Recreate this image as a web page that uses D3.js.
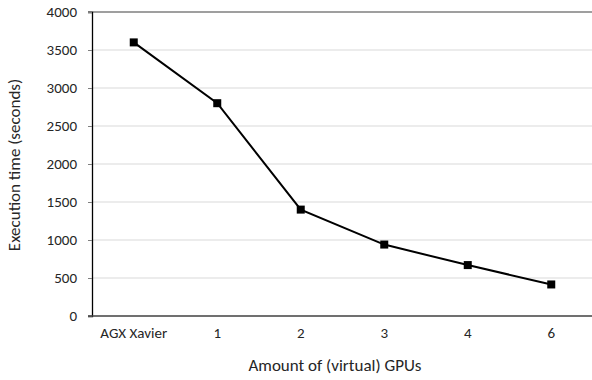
<!DOCTYPE html>
<html>
<head>
<meta charset="utf-8">
<script src="https://cdn.jsdelivr.net/npm/d3@7"></script>
<style>
  body { margin: 0; background: #fff; }
  text { font-family: Carlito, "Open Sans", "Liberation Sans", sans-serif; fill: #262626; }
</style>
</head>
<body>
<div id="chart"></div>
<script>
const categories = ['AGX Xavier', '1', '2', '3', '4', '6'];
const execTimes = [3600, 2800, 1400, 940, 670, 415];
const yTicks = [0, 500, 1000, 1500, 2000, 2500, 3000, 3500, 4000];

const width = 592, height = 380;
const margin = { top: 12, right: -1, bottom: 64, left: 92 };

const svg = d3.select('#chart').append('svg')
  .attr('width', width)
  .attr('height', height);

const x = d3.scaleBand()
  .domain(categories)
  .range([margin.left, width - margin.right]);

const y = d3.scaleLinear()
  .domain([0, 4000])
  .range([height - margin.bottom, margin.top]);

// gridlines
svg.append('g')
  .selectAll('line')
  .data(yTicks.filter(d => d > 0 && d < 4000))
  .join('line')
  .attr('x1', margin.left)
  .attr('x2', width)
  .attr('y1', d => y(d))
  .attr('y2', d => y(d))
  .attr('stroke', '#d9d9d9')
  .attr('stroke-width', 1);

// top border line
svg.append('line')
  .attr('x1', margin.left - 4).attr('x2', width)
  .attr('y1', y(4000)).attr('y2', y(4000))
  .attr('stroke', '#7f7f7f').attr('stroke-width', 1.3);

// y axis
const yAxis = svg.append('g')
  .attr('transform', `translate(${margin.left},0)`)
  .call(d3.axisLeft(y).tickValues(yTicks).tickFormat(d3.format('d')).tickSize(4).tickPadding(11));
yAxis.select('.domain').attr('stroke', '#000').attr('stroke-width', 1.3);
yAxis.selectAll('.tick line').attr('stroke', '#7f7f7f');
yAxis.selectAll('.tick text').style('font-size', '15px');

// x axis
const xAxis = svg.append('g')
  .attr('transform', `translate(0,${y(0)})`)
  .call(d3.axisBottom(x).tickSize(0).tickPadding(11));
xAxis.select('.domain').remove();
xAxis.selectAll('.tick text').style('font-size', '15px');
svg.append('line')
  .attr('x1', margin.left - 4).attr('x2', width)
  .attr('y1', y(0)).attr('y2', y(0))
  .attr('stroke', '#404040').attr('stroke-width', 1.3);

// line
const line = d3.line()
  .x((d, i) => x(categories[i]) + x.bandwidth() / 2)
  .y(d => y(d));

svg.append('path')
  .datum(execTimes)
  .attr('fill', 'none')
  .attr('stroke', '#000')
  .attr('stroke-width', 2)
  .attr('d', line);

svg.append('g')
  .selectAll('rect')
  .data(execTimes)
  .join('rect')
  .attr('x', (d, i) => x(categories[i]) + x.bandwidth() / 2 - 4)
  .attr('y', d => y(d) - 4)
  .attr('width', 8)
  .attr('height', 8)
  .attr('fill', '#000');

// axis titles
svg.append('text')
  .attr('x', 335)
  .attr('y', 371)
  .attr('text-anchor', 'middle')
  .style('font-size', '17px')
  .text('Amount of (virtual) GPUs');

svg.append('text')
  .attr('transform', `translate(20,${(y(0) + y(4000)) / 2 + 1}) rotate(-90)`)
  .attr('text-anchor', 'middle')
  .style('font-size', '17px')
  .text('Execution time (seconds)');
</script>
</body>
</html>
